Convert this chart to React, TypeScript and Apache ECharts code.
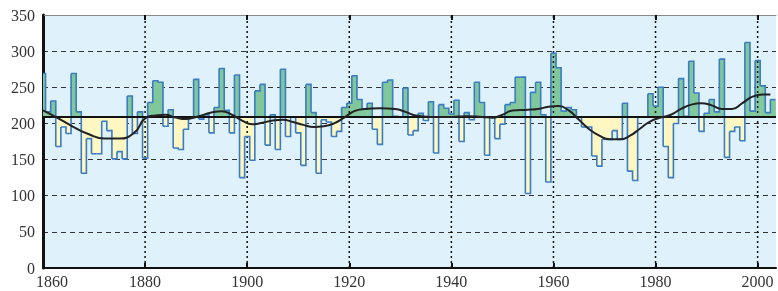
import React, { useEffect, useRef } from "react";
import * as echarts from "echarts";

const FIRST_YEAR = 1860;
// yearly values, 1860 .. 2003 (one row per decade)
const VALUES = [
  269, 216, 231, 168, 195, 186, 269, 216, 131, 179,
  158, 158, 203, 190, 151, 161, 151, 238, 186, 216,
  152, 229, 259, 257, 196, 219, 166, 164, 192, 209,
  261, 206, 212, 187, 222, 276, 218, 187, 267, 125,
  182, 149, 245, 254, 170, 212, 164, 275, 182, 209,
  187, 142, 254, 215, 131, 205, 202, 182, 189, 222,
  228, 266, 233, 220, 228, 192, 171, 257, 260, 210,
  209, 249, 184, 190, 214, 204, 230, 159, 226, 221,
  213, 232, 175, 215, 205, 257, 229, 156, 209, 179,
  199, 226, 229, 264, 264, 103, 243, 257, 212, 119,
  297, 277, 217, 222, 219, 209, 195, 195, 155, 141,
  178, 178, 190, 178, 228, 134, 121, 209, 209, 241,
  224, 250, 168, 125, 200, 262, 210, 286, 242, 189,
  214, 233, 216, 289, 153, 189, 195, 176, 312, 217,
  287, 252, 215, 233,
];
const BASELINE = 209;

const SMOOTH_YEARS = [
  1860, 1863, 1866, 1869, 1872, 1875, 1878, 1880, 1882, 1884, 1886, 1888, 1890,
  1893, 1895, 1897, 1899, 1901, 1903, 1905, 1907, 1909, 1911, 1913, 1915, 1917,
  1919, 1921, 1923, 1926, 1929, 1931, 1933, 1936, 1940, 1943, 1946, 1948, 1950,
  1952, 1955, 1957, 1959, 1961, 1963, 1965, 1967, 1969, 1971, 1973, 1975, 1977,
  1979, 1981, 1983, 1985, 1987, 1989, 1991, 1993, 1995, 1997, 1999, 2001, 2002.5,
];
const SMOOTH_VALUES = [
  218, 207, 195, 185, 179, 179, 188, 207, 211, 212, 208, 206, 209,
  215, 217, 212, 204, 199, 201, 204, 205, 202, 198, 195, 196, 200,
  208, 217, 220, 221, 220, 216, 211, 209, 209, 210, 209, 208, 212,
  218, 219, 220, 223, 224, 218, 205, 192, 183, 178, 178, 183, 193,
  203, 208, 212, 220, 226, 228, 225, 220, 220, 228, 237, 240, 240,
];

const X_TICKS = [1860, 1880, 1900, 1920, 1940, 1960, 1980, 2000];
const X_MIN = 1860;
const X_MAX = 2003.6;
const Y_MIN = 0;
const Y_MAX = 350;
const Y_STEP = 50;

const GREEN = "#80c89c";
const YELLOW = "#fff7c2";
const BLUE = "#3b7cc4";
const BG = "#dff2fb";
const FONT = "'Liberation Serif', 'DejaVu Serif', serif";

export default function App() {
  const ref = useRef<HTMLDivElement>(null);

  useEffect(() => {
    const chart = echarts.init(ref.current!, null, { renderer: "svg" });
    const barData = VALUES.map((v, i) => [
      FIRST_YEAR + i,
      v,
      i + 1 < VALUES.length ? VALUES[i + 1] : v,
    ]);
    const clampX = (px: number, cs: any) =>
      Math.max(cs.x, Math.min(cs.x + cs.width, px));

    chart.setOption({
      animation: false,
      grid: {
        left: 43,
        right: 2,
        top: 15,
        bottom: 23,
        show: true,
        backgroundColor: BG,
        borderWidth: 0,
      },
      xAxis: [
        {
          type: "value",
          min: X_MIN,
          max: X_MAX,
          interval: 20,
          position: "bottom",
          axisLine: { show: true, onZero: false, lineStyle: { color: "#111", width: 2 } },
          axisTick: {
            show: true,
            inside: true,
            length: 5,
            customValues: X_TICKS,
            lineStyle: { color: "#111", width: 2 },
          },
          axisLabel: {
            customValues: X_TICKS,
            margin: 5,
            color: "#333",
            fontFamily: FONT,
            fontSize: 16,
            formatter: (v: number) =>
              v === X_MIN ? "{first|" + v + "}" : X_TICKS.indexOf(v) >= 0 ? String(v) : "",
            rich: {
              first: {
                fontFamily: FONT,
                fontSize: 16,
                color: "#333",
                padding: [0, 0, 0, 18],
              },
            },
          },
          splitLine: { show: false },
        },
        {
          type: "value",
          min: X_MIN,
          max: X_MAX,
          interval: 20,
          position: "top",
          axisLine: { show: true, onZero: false, lineStyle: { color: "#888", width: 1 } },
          axisTick: {
            show: true,
            inside: true,
            length: 5,
            customValues: X_TICKS,
            lineStyle: { color: "#111", width: 2 },
          },
          axisLabel: { show: false },
          splitLine: { show: false },
        },
      ],
      yAxis: {
        type: "value",
        min: Y_MIN,
        max: Y_MAX,
        interval: Y_STEP,
        axisLine: { show: true, lineStyle: { color: "#111", width: 3 } },
        axisTick: { show: false },
        axisLabel: { color: "#333", fontFamily: FONT, fontSize: 16, margin: 8 },
        splitLine: { show: true, lineStyle: { color: "#333", type: [5, 4], width: 1 } },
      },
      series: [
        {
          type: "custom",
          name: "fill",
          data: barData,
          encode: { x: 0, y: 1 },
          z: 2,
          renderItem: (params: any, api: any) => {
            const cs = params.coordSys;
            const x = api.value(0);
            const v = api.value(1);
            const a = api.coord([x - 0.5, BASELINE]);
            const b = api.coord([x + 0.5, v]);
            const x0 = clampX(a[0], cs);
            const x1 = clampX(b[0] + 0.4, cs);
            return {
              type: "rect",
              shape: {
                x: x0,
                y: Math.min(a[1], b[1]),
                width: x1 - x0,
                height: Math.abs(b[1] - a[1]),
              },
              style: { fill: v >= BASELINE ? GREEN : YELLOW },
            };
          },
        },
        {
          type: "custom",
          name: "vgrid",
          data: X_TICKS.filter((t) => t > X_MIN).map((t) => [t]),
          encode: { x: 0 },
          z: 3,
          silent: true,
          renderItem: (params: any, api: any) => {
            const x = api.value(0);
            const p0 = api.coord([x, Y_MIN]);
            const p1 = api.coord([x, Y_MAX]);
            return {
              type: "line",
              shape: { x1: p0[0], y1: p0[1], x2: p1[0], y2: p1[1] },
              style: { stroke: "#111", lineWidth: 1.5, lineDash: [2, 3] },
            };
          },
        },
        {
          type: "custom",
          name: "outline",
          data: barData,
          encode: { x: 0, y: 1 },
          z: 4,
          renderItem: (params: any, api: any) => {
            const cs = params.coordSys;
            const x = api.value(0);
            const v = api.value(1);
            const nv = api.value(2);
            const p1 = api.coord([x - 0.5, v]);
            const p2 = api.coord([x + 0.5, v]);
            const p3 = api.coord([x + 0.5, nv]);
            p1[0] = clampX(p1[0], cs);
            p2[0] = clampX(p2[0], cs);
            p3[0] = clampX(p3[0], cs);
            return {
              type: "polyline",
              shape: { points: [p1, p2, p3] },
              style: { stroke: BLUE, lineWidth: 1.6, fill: "none" },
            };
          },
        },
        {
          type: "line",
          name: "smooth",
          data: SMOOTH_YEARS.map((y, i) => [y, SMOOTH_VALUES[i]]),
          smooth: 0.5,
          showSymbol: false,
          z: 5,
          lineStyle: { color: "#222", width: 2 },
          markLine: {
            silent: true,
            symbol: ["none", "none"],
            label: { show: false },
            data: [
              { yAxis: BASELINE, lineStyle: { color: "#111", width: 2, type: "solid" } },
            ],
          },
        },
      ],
    });
    return () => chart.dispose();
  }, []);

  return (
    <div
      ref={ref}
      style={{ position: "fixed", left: 0, top: 0, width: 778, height: 291 }}
    />
  );
}
